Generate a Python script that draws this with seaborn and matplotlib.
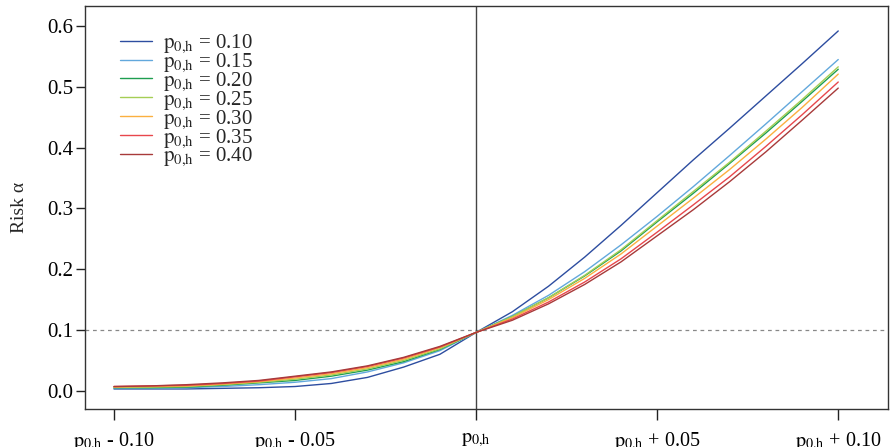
import numpy as np
import pandas as pd
import matplotlib
matplotlib.use("Agg")
import matplotlib.pyplot as plt
import seaborn as sns

# offset from p_0,h
deltas = [-0.10, -0.09, -0.08, -0.07, -0.06, -0.05, -0.04, -0.03, -0.02, -0.01, 0.00,
          0.01, 0.02, 0.03, 0.04, 0.05, 0.06, 0.07, 0.08, 0.09, 0.10]

p_values = ["0.10", "0.15", "0.20", "0.25", "0.30", "0.35", "0.40"]

risk_010 = [0.003, 0.003, 0.003, 0.004, 0.005, 0.007, 0.012, 0.022, 0.039, 0.060, 0.096,
            0.130, 0.172, 0.220, 0.272, 0.326, 0.380, 0.432, 0.485, 0.538, 0.592]
risk_015 = [0.004, 0.004, 0.005, 0.007, 0.010, 0.014, 0.020, 0.031, 0.046, 0.066, 0.096,
            0.124, 0.157, 0.196, 0.240, 0.287, 0.336, 0.387, 0.439, 0.492, 0.545]
risk_020 = [0.005, 0.005, 0.006, 0.009, 0.013, 0.017, 0.024, 0.034, 0.048, 0.068, 0.096,
            0.122, 0.153, 0.189, 0.230, 0.278, 0.325, 0.374, 0.424, 0.476, 0.529]
risk_025 = [0.006, 0.006, 0.007, 0.010, 0.014, 0.019, 0.026, 0.036, 0.050, 0.069, 0.096,
            0.122, 0.153, 0.190, 0.232, 0.280, 0.328, 0.376, 0.427, 0.479, 0.533]
risk_030 = [0.006, 0.007, 0.008, 0.011, 0.015, 0.021, 0.028, 0.038, 0.052, 0.071, 0.096,
            0.120, 0.150, 0.185, 0.225, 0.271, 0.317, 0.364, 0.414, 0.466, 0.521]
risk_035 = [0.007, 0.008, 0.009, 0.012, 0.016, 0.023, 0.030, 0.040, 0.054, 0.072, 0.096,
            0.118, 0.146, 0.179, 0.217, 0.261, 0.306, 0.352, 0.402, 0.454, 0.508]
risk_040 = [0.007, 0.008, 0.010, 0.013, 0.017, 0.024, 0.031, 0.041, 0.055, 0.073, 0.096,
            0.116, 0.143, 0.175, 0.212, 0.255, 0.298, 0.344, 0.393, 0.445, 0.498]

colors = ["#2d4da0", "#62a8dc", "#1e9e50", "#a5ce55", "#fbb040", "#e8474c", "#a83a3a"]

P0H = r"$\mathrm{p_{0{,}h}}$"
x_ticks = [-0.10, -0.05, 0.0, 0.05, 0.10]
x_labels = [P0H + " - 0.10", P0H + " - 0.05", P0H, P0H + " + 0.05", P0H + " + 0.10"]
y_ticks = [0.0, 0.1, 0.2, 0.3, 0.4, 0.5, 0.6]

all_risks = [risk_010, risk_015, risk_020, risk_025, risk_030, risk_035, risk_040]
hue_order = [P0H + " = " + p for p in p_values]
rows = []
for label, risks in zip(hue_order, all_risks):
    for d, r in zip(deltas, risks):
        rows.append({"delta": d, "risk": r, "p": label})
df = pd.DataFrame(rows)

sns.set_style("ticks")
plt.rcParams["font.family"] = ["Liberation Serif", "DejaVu Serif"]
plt.rcParams["mathtext.fontset"] = "stix"

fig = plt.figure(figsize=(8.9, 4.47), dpi=100)
ax = fig.add_axes([0.0955, 0.085, 0.9025, 0.9015])

sns.lineplot(data=df, x="delta", y="risk", hue="p", hue_order=hue_order,
             palette=dict(zip(hue_order, colors)), linewidth=1.0, ax=ax)

ax.axhline(0.1, color="#888888", linestyle=(0, (3, 3)), linewidth=0.9, zorder=0)
ax.axvline(0.0, color="#444444", linewidth=1.0, zorder=0)

ax.set_xlim(-0.108, 0.1138)
ax.set_ylim(-0.030, 0.633)
ax.set_xticks(x_ticks)
ax.set_xticklabels(x_labels, fontsize=14.5)
ax.set_yticks(y_ticks)
ax.set_yticklabels([f"{v:.1f}" for v in y_ticks], fontsize=15)
ax.tick_params(axis="x", length=8, width=1, pad=7, colors="#222222", labelcolor="black")
ax.tick_params(axis="y", length=6.5, width=1, pad=2, colors="#222222", labelcolor="black")
ax.set_xlabel("")
ax.set_ylabel("Risk α", fontsize=14, labelpad=14)

for s in ax.spines.values():
    s.set_visible(True)
    s.set_color("#333333")
    s.set_linewidth(1.0)

ax.legend(loc="upper left", bbox_to_anchor=(0.026, 0.97), frameon=False, fontsize=15,
          labelspacing=-0.17, handlelength=1.5, handletextpad=0.55, borderaxespad=0.3)

fig.savefig("out.png", dpi=100)
